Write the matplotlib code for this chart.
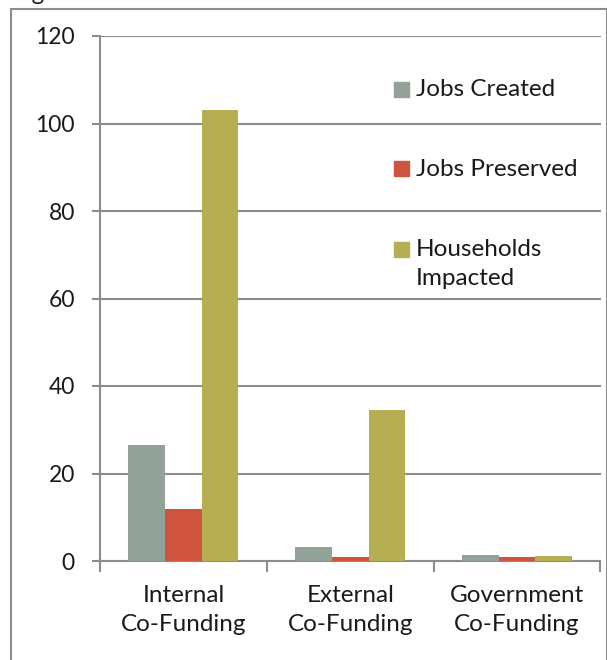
import matplotlib.pyplot as plt
from matplotlib.patches import Rectangle

# datos del grafico
categorias = ["Internal\nCo-Funding", "External\nCo-Funding", "Government\nCo-Funding"]
series = ["Jobs Created", "Jobs Preserved", "Households\nImpacted"]
jobs_created = [26.5, 3.2, 1.4]
jobs_preserved = [12.0, 1.0, 0.9]
households = [103.0, 34.5, 1.1]
colores = ["#93A299", "#CF543F", "#B5AE53"]
y_ticks = [0, 20, 40, 60, 80, 100, 120]

GRIS = "#8C8C8C"
plt.rcParams['font.family'] = ['Lato', 'DejaVu Sans']
plt.rcParams['text.color'] = '#1A1A1A'

W, H = 607, 660
fig = plt.figure(figsize=(W / 100, H / 100), dpi=100)
ax = fig.add_axes([100 / W, 1 - 561 / H, 500.5 / W, 525 / H])

ancho = 0.22
centros = [i + 0.5 for i in range(len(categorias))]
valores = [jobs_created, jobs_preserved, households]
for k, (nombre, vals, c) in enumerate(zip(series, valores, colores)):
    xs = [x + (k - 1) * ancho for x in centros]
    ax.bar(xs, vals, width=ancho, color=c, label=nombre, zorder=3)

ax.set_xlim(0, len(categorias))
ax.set_ylim(0, 120)
ax.set_yticks(y_ticks)
ax.tick_params(axis='y', length=6, width=1.5, color=GRIS, pad=12,
               labelsize=16.5, labelcolor='#1A1A1A')

# marcas en los limites de categoria, etiquetas en el centro
ax.set_xticks(range(len(categorias) + 1))
ax.set_xticklabels([])
ax.set_xticks(centros, minor=True)
ax.set_xticklabels(categorias, minor=True, fontsize=17.5, linespacing=1.5)
ax.tick_params(axis='x', which='major', length=8, width=1.5, color=GRIS)
ax.tick_params(axis='x', which='minor', length=0, pad=17, labelcolor='#1A1A1A')

ax.grid(axis='y', color=GRIS, linewidth=1.5, zorder=0)
ax.set_axisbelow(True)
for lado in ['top', 'right']:
    ax.spines[lado].set_visible(False)
for lado in ['left', 'bottom']:
    ax.spines[lado].set_color(GRIS)
    ax.spines[lado].set_linewidth(1.5)

# leyenda dibujada a mano (el cuadro va con la primera linea del texto)
filas_px = [90, 170, 250]
for nombre, c, yc in zip(series, colores, filas_px):
    fig.patches.append(Rectangle((394 / W, 1 - (yc + 6.5) / H), 15 / W, 15 / H,
                                 transform=fig.transFigure, color=c))
    fig.text(416 / W, 1 - (yc - 11) / H, nombre, fontsize=17.5, va='top',
             linespacing=1.5)

# marco exterior y resto del titulo cortado
fig.patches.append(Rectangle((11 / W, -0.1), (606.5 - 11) / W, 1.1 - 9 / H,
                             transform=fig.transFigure, fill=False,
                             edgecolor=GRIS, linewidth=1.5))
fig.text(13 / W, 1.0, "Figure", fontsize=17.5, va='baseline')

fig.savefig("out.png", dpi=100)
